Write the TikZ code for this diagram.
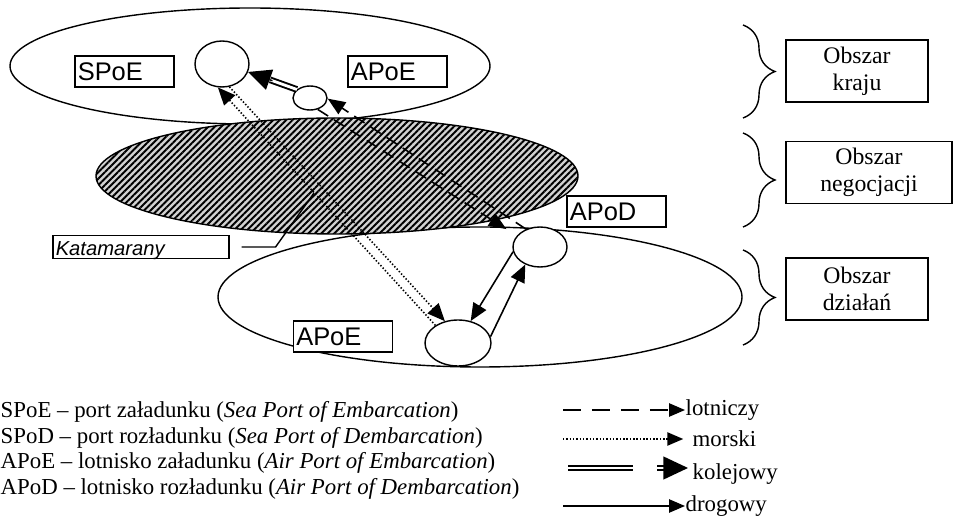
\documentclass[tikz,border=0pt]{standalone}
\usepackage{fontspec}
\setmainfont{Liberation Serif}
\newfontfamily\arial{Liberation Sans}
\usetikzlibrary{arrows.meta}
\usetikzlibrary{calc}
\usetikzlibrary{shapes.geometric}
\usetikzlibrary{patterns.meta}
\usetikzlibrary{decorations.pathreplacing}

\begin{document}
\begin{tikzpicture}
      [
        x=0.02cm, y=-0.02cm,
        line width=0.8pt,
        port/.style = {draw, ellipse, fill=white, inner sep=0pt},
        tag/.style = {draw, fill=white, inner xsep=1.5pt, text width=1.87cm, align=left,
                      minimum height=0.62cm, font=\arial\fontsize{14.5}{16}\selectfont},
        zone/.style = {draw, fill=white, align=center, minimum width=2.84cm, minimum height=1.24cm,
                       font=\fontsize{13.5}{15.5}\selectfont},
        legtxt/.style = {inner sep=0pt, font=\fontsize{13}{15}\selectfont},
        lotn/.style = {line width=0.9pt, dash pattern=on 7pt off 4pt, -{Triangle[length=10pt,width=8pt]}},
        morsk/.style = {line width=0.9pt, dash pattern=on 0.8pt off 1.1pt, -{Triangle[length=10pt,width=8.5pt]}},
        kolej/.style = {double, line width=1.1pt, double distance=1.6pt},
        kolejgrot/.style = {-{Triangle[length=13pt,width=12pt]}},
        drog/.style = {line width=0.9pt, -{Triangle[length=10pt,width=8.5pt]}},
        klamra/.style = {decorate, decoration={brace, amplitude=0.64cm}}
      ]

      \useasboundingbox (0,0) rectangle (953,516);

      % obszary
      \draw (250,66) ellipse [x radius=240, y radius=58];
      \draw (480,297) ellipse [x radius=262, y radius=70];
      \path[draw, preaction={fill=gray!35}, pattern={Lines[angle=45,distance=2.6pt,line width=1.1pt]}]
        (337,176) ellipse [x radius=241, y radius=58];

      % porty
      \node[port, minimum width=1.08cm, minimum height=0.92cm] (sea) at (222,64) {};
      \node[port, minimum width=0.68cm, minimum height=0.48cm] (air) at (310,98) {};
      \node[port, minimum width=1.08cm, minimum height=0.80cm] (apod) at (540,247) {};
      \node[port, minimum width=1.32cm, minimum height=0.92cm] (dest) at (458,343) {};

      % przewozy
      \draw[morsk] (sea.-72) -- (dest.121);
      \draw[morsk] (dest.142) -- (sea.-100);
      \draw[lotn, shorten >=7pt] (air.-56) -- (apod.154);
      \draw[lotn] (apod.128) -- (air.-2);
      \draw[drog] (apod.190) -- (dest.60);
      \draw[drog] (dest.11) -- (apod.230);
      \draw[kolej] (air.147) -- ($(air.147)!0.55!(sea.-17)$);
      \draw[kolejgrot] ($(air.147)!0.5!(sea.-17)$) -- (sea.-17);

      % etykiety
      \node[tag] (lspoe) at (124.5,71.5) {SPoE};
      \node[tag] (lapoe) at (397.5,71.5) {APoE};
      \node[tag] (lapod) at (616.5,211.5) {APoD};
      \node[tag] (lapoeb) at (343,336.5) {APoE};
      \node[draw, fill=white, inner xsep=1.5pt, inner ysep=1.5pt, text width=3.41cm, align=left,
            text height=10pt, text depth=0.3pt, font=\arial\itshape\fontsize{11.5}{13}\selectfont]
            (kat) at (141,247) {Katamarany};
      \coordinate (katend) at (314,193);
      \draw ([xshift=0.24cm]kat.east) -- ++(34,0) -- (katend);

      % klamry i nazwy obszarow
      \draw[klamra] (743,25) -- (743,118);
      \draw[klamra] (743,133) -- (743,227);
      \draw[klamra] (743,250) -- (743,345);
      \node[zone] (kraj) at (857,71) {Obszar\\kraju};
      \node[zone, minimum width=3.32cm] (negoc) at (869,172.5) {Obszar\\negocjacji};
      \node[zone] (dzial) at (857,289) {Obszar\\działań};

      % legenda
      \node[legtxt, anchor=base west] (leg1) at (0,418) {SPoE -- port załadunku (\textit{Sea Port of Embarcation})};
      \node[legtxt, anchor=base west] (leg2) at (0,443.5) {SPoD -- port rozładunku (\textit{Sea Port of Dembarcation})};
      \node[legtxt, anchor=base west] (leg3) at (0,469) {APoE -- lotnisko załadunku (\textit{Air Port of Embarcation})};
      \node[legtxt, anchor=base west] (leg4) at (0,494.5) {APoD -- lotnisko rozładunku (\textit{Air Port of Dembarcation})};

      \coordinate (lotA) at (563,410);
      \node[legtxt, anchor=west] (lot) at (685,410) {lotniczy};
      \draw[lotn, dash pattern=on 10pt off 6.5pt, -{Triangle[length=9pt,width=7.5pt]}] (lotA) -- (lot.west);

      \coordinate (morA) at (563,439);
      \node[legtxt, anchor=west] (mor) at (692,439) {morski};
      \draw[morsk, -{Triangle[length=9pt,width=7.5pt]}, shorten >=5pt] (morA) -- (mor.west);

      \coordinate (kolA) at (568,468);
      \coordinate (kolB) at (633,468);
      \coordinate (kolC) at (657,468);
      \coordinate (kolD) at (664,468);
      \coordinate (kolE) at (688,468);
      \node[legtxt, anchor=west] (kol) at (692,474) {kolejowy};
      \draw[kolej] (kolA) -- (kolB);
      \draw[kolej] (kolC) -- (kolD);
      \draw[-{Triangle[length=14pt,width=13pt]}] (kolD) -- (kolE);

      \coordinate (drogA) at (563,506);
      \node[legtxt, anchor=west] (drg) at (685,506) {drogowy};
      \draw[drog, -{Triangle[length=9pt,width=7.5pt]}] (drogA) -- (drg.west);

\end{tikzpicture}
\end{document}
